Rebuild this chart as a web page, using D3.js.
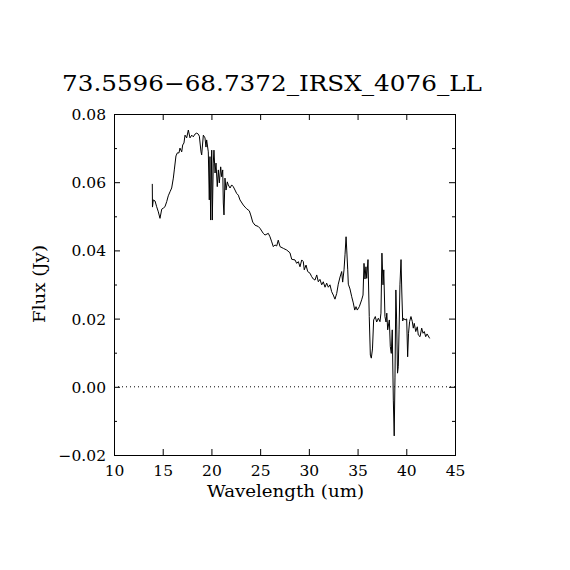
<!DOCTYPE html>
<html><head><meta charset="utf-8">
<script src="https://cdn.jsdelivr.net/npm/d3@7"></script>
<style>body{margin:0;background:#fff}svg{display:block}text{font-family:"DejaVu Serif","Liberation Serif",serif;fill:#000}</style>
</head><body>
<svg id="c" width="570" height="570"></svg>
<script>
const titleText = "73.5596\u221268.7372_IRSX_4076_LL";
const xLabel = "Wavelength (um)";
const yLabel = "Flux (Jy)";
const xTicks = [10, 15, 20, 25, 30, 35, 40, 45];
const yTicks = [-0.02, 0.00, 0.02, 0.04, 0.06, 0.08];
const yMinorTicks = [-0.01, 0.01, 0.03, 0.05, 0.07];
const wavelength = [13.93,13.95,14.03,14.21,14.38,14.55,14.72,14.90,15.06,15.23,15.41,15.57,15.75,15.92,16.09,16.19,16.36,16.50,16.67,16.77,16.95,17.05,17.18,17.29,17.46,17.63,17.80,17.98,18.14,18.31,18.49,18.65,18.76,18.93,19.00,19.17,19.34,19.44,19.51,19.68,19.78,19.85,19.92,20.03,20.09,20.19,20.26,20.37,20.47,20.60,20.71,20.81,20.95,21.05,21.16,21.22,21.29,21.39,21.50,21.63,21.73,21.91,22.08,22.24,22.42,22.59,22.76,22.93,23.27,23.45,23.62,23.89,24.03,24.24,24.47,24.81,24.98,25.32,25.50,25.84,26.01,26.19,26.35,26.52,26.70,26.86,27.04,27.38,27.73,28.06,28.24,28.58,28.75,28.92,29.09,29.27,29.43,29.53,29.71,29.88,30.12,30.29,30.46,30.63,30.81,30.97,31.14,31.32,31.48,31.66,31.83,32.00,32.17,32.34,32.51,32.68,32.86,33.02,33.20,33.37,33.47,33.61,33.71,33.82,33.89,33.99,34.05,34.22,34.40,34.56,34.71,34.84,34.97,35.18,35.42,35.56,35.66,35.76,35.86,35.94,36.07,36.20,36.31,36.41,36.53,36.65,36.82,36.96,37.13,37.30,37.40,37.50,37.61,37.69,37.81,37.92,38.00,38.09,38.26,38.36,38.46,38.56,38.67,38.76,38.84,38.93,39.01,39.10,39.18,39.26,39.35,39.46,39.54,39.63,39.73,39.87,40.04,40.14,40.23,40.34,40.48,40.62,40.72,40.82,40.97,41.13,41.23,41.41,41.58,41.72,41.85,41.99,42.13,42.26,42.40];
const flux = [0.0595,0.0527,0.0548,0.0545,0.0528,0.0513,0.0494,0.0521,0.0524,0.0528,0.0543,0.0560,0.0572,0.0583,0.0612,0.0636,0.0677,0.0686,0.0686,0.0700,0.0689,0.0709,0.0715,0.0738,0.0730,0.0753,0.0730,0.0738,0.0733,0.0741,0.0744,0.0741,0.0735,0.0689,0.0680,0.0738,0.0730,0.0703,0.0724,0.0689,0.0548,0.0675,0.0489,0.0694,0.0489,0.0656,0.0694,0.0627,0.0656,0.0587,0.0636,0.0598,0.0645,0.0616,0.0636,0.0539,0.0504,0.0612,0.0577,0.0601,0.0592,0.0583,0.0592,0.0587,0.0577,0.0567,0.0562,0.0548,0.0533,0.0527,0.0522,0.0516,0.0504,0.0483,0.0474,0.0470,0.0465,0.0450,0.0445,0.0450,0.0440,0.0425,0.0411,0.0416,0.0413,0.0430,0.0411,0.0406,0.0401,0.0393,0.0374,0.0372,0.0362,0.0367,0.0352,0.0372,0.0367,0.0343,0.0357,0.0338,0.0333,0.0323,0.0316,0.0313,0.0328,0.0308,0.0315,0.0299,0.0308,0.0292,0.0304,0.0292,0.0299,0.0279,0.0269,0.0257,0.0274,0.0301,0.0322,0.0338,0.0307,0.0343,0.0387,0.0440,0.0401,0.0343,0.0301,0.0287,0.0264,0.0246,0.0225,0.0235,0.0225,0.0235,0.0255,0.0269,0.0362,0.0316,0.0352,0.0318,0.0373,0.0206,0.0093,0.0084,0.0111,0.0196,0.0206,0.0190,0.0201,0.0191,0.0216,0.0392,0.0299,0.0343,0.0206,0.0190,0.0216,0.0167,0.0196,0.0118,0.0098,0.0167,-0.0039,-0.0144,0.0026,0.0284,0.0196,0.0040,0.0059,0.0167,0.0299,0.0373,0.0278,0.0193,0.0201,0.0196,0.0199,0.0088,0.0157,0.0191,0.0206,0.0191,0.0172,0.0186,0.0162,0.0176,0.0152,0.0147,0.0172,0.0157,0.0162,0.0147,0.0155,0.0149,0.0142];

const svg = d3.select("#c");
const L = 114, R = 455, T = 114, B = 455;
const x = d3.scaleLinear().domain([10, 45]).range([L, R]);
const y = d3.scaleLinear().domain([-0.02, 0.08]).range([B, T]);

// zero dotted line
svg.append("line").attr("x1", L).attr("x2", R).attr("y1", y(0)).attr("y2", y(0))
  .attr("stroke", "#000").attr("stroke-width", 1).attr("stroke-dasharray", "1,3");

// data
const pts = wavelength.map((w, i) => [w, flux[i]]);
svg.append("path").datum(pts)
  .attr("d", d3.line().x(d => x(d[0])).y(d => y(d[1])))
  .attr("fill", "none").attr("stroke", "#000").attr("stroke-width", 1);

// axes
const fmtY = d3.format(".2f");
const minus = s => s.replace("-", "\u2212");
const gBottom = svg.append("g").attr("transform", `translate(0,${B})`)
  .call(d3.axisBottom(x).tickValues(xTicks).tickSize(-6).tickPadding(10).tickFormat(d3.format("d")));
const gTop = svg.append("g").attr("transform", `translate(0,${T})`)
  .call(d3.axisTop(x).tickValues(xTicks).tickSize(-6).tickFormat(""));
const gLeft = svg.append("g").attr("transform", `translate(${L},0)`)
  .call(d3.axisLeft(y).tickValues(yTicks).tickSize(-6).tickPadding(8).tickFormat(d => minus(fmtY(d))));
const gRight = svg.append("g").attr("transform", `translate(${R},0)`)
  .call(d3.axisRight(y).tickValues(yTicks).tickSize(-6).tickFormat(""));
svg.append("g").attr("transform", `translate(${L},0)`)
  .call(d3.axisLeft(y).tickValues(yMinorTicks).tickSize(-3).tickFormat(""));
svg.append("g").attr("transform", `translate(${R},0)`)
  .call(d3.axisRight(y).tickValues(yMinorTicks).tickSize(-3).tickFormat(""));
svg.selectAll(".domain").attr("stroke", "#000").attr("stroke-width", 1);
svg.selectAll(".tick line").attr("stroke", "#000");
svg.selectAll(".tick text").attr("font-family", '"DejaVu Serif", serif').attr("font-size", 15.5).attr("fill", "#000");
gLeft.selectAll(".tick text").attr("dy", "0.35em");

// titles
svg.append("text").attr("x", 272).attr("y", 91).attr("text-anchor", "middle")
  .attr("font-size", 22).attr("textLength", 420).attr("lengthAdjust", "spacingAndGlyphs").text(titleText);
svg.append("text").attr("x", 285.5).attr("y", 497).attr("text-anchor", "middle")
  .attr("font-size", 16).attr("textLength", 157).attr("lengthAdjust", "spacingAndGlyphs").text(xLabel);
svg.append("text").attr("transform", "translate(45,284) rotate(-90)").attr("text-anchor", "middle")
  .attr("font-size", 16).attr("textLength", 78).attr("lengthAdjust", "spacingAndGlyphs").text(yLabel);
</script>
</body></html>
